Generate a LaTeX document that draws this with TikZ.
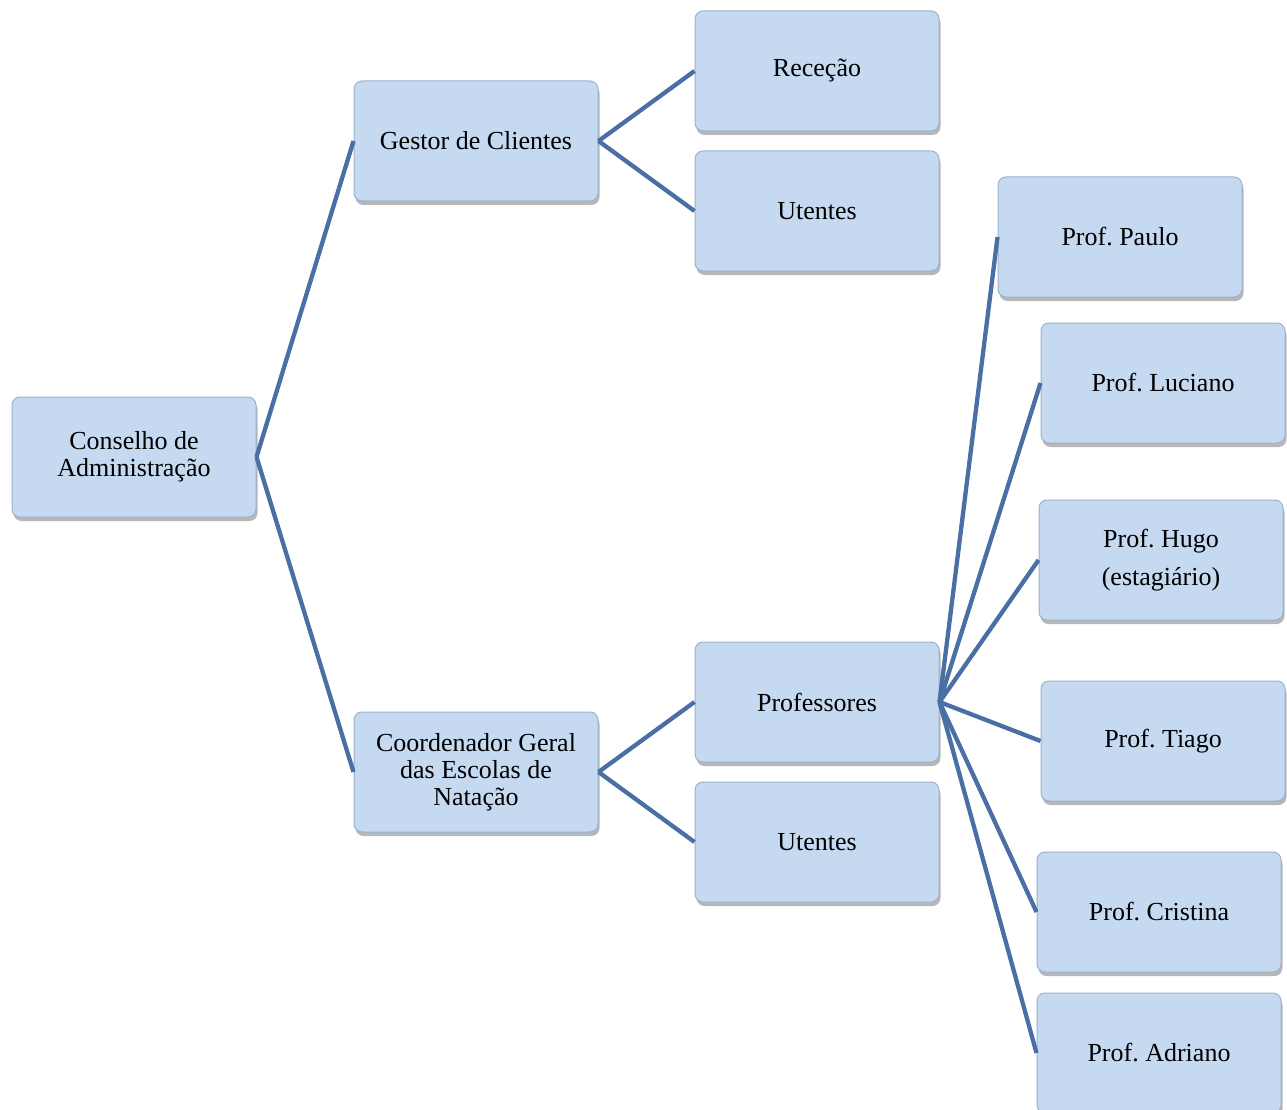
\documentclass[tikz,border=0pt]{standalone}
\usepackage{fontspec}
\setmainfont{Liberation Serif}
\usetikzlibrary{shadows}
\definecolor{boxfill}{HTML}{C5D9F1}
\definecolor{boxedge}{HTML}{9AB2D0}
\definecolor{linkblue}{HTML}{4A6FA5}
\tikzset{
  orgbox/.style={draw=boxedge, line width=1pt, fill=boxfill, rounded corners=8pt,
    minimum width=244pt, minimum height=120pt, align=center, inner sep=2pt,
    font=\fontsize{26}{27}\selectfont\frenchspacing,
    drop shadow={opacity=0.4, shadow xshift=1.5pt, shadow yshift=-4pt, fill=black!70}},
  link/.style={draw=linkblue, line width=4.3pt}
}
\begin{document}
\begin{tikzpicture}[x=1pt,y=-1pt]
\useasboundingbox (0,0) rectangle (1287,1110);
% organisation boxes
\node[orgbox] (ca)   at (134,457)  {Conselho de\\Administração};
\node[orgbox] (gc)   at (476,141)  {Gestor de Clientes};
\node[orgbox] (cg)   at (476,772)  {Coordenador Geral\\das Escolas de\\Natação};
\node[orgbox] (rec)  at (817,71)   {Receção};
\node[orgbox] (ut1)  at (817,211)  {Utentes};
\node[orgbox] (prof) at (817,702)  {Professores};
\node[orgbox] (ut2)  at (817,842)  {Utentes};
\node[orgbox] (pau)  at (1120,237) {Prof. Paulo};
\node[orgbox] (luc)  at (1163,383) {Prof. Luciano};
\node[orgbox] (hug)  at (1161,560) {Prof. Hugo\\[11pt](estagiário)};
\node[orgbox] (tia)  at (1163,741) {Prof. Tiago};
\node[orgbox] (cri)  at (1159,912) {Prof. Cristina};
\node[orgbox] (adr)  at (1159,1053) {Prof. Adriano};
% connectors
\foreach \a/\b in {ca/gc, ca/cg, gc/rec, gc/ut1, cg/prof, cg/ut2,
                   prof/pau, prof/luc, prof/hug, prof/tia, prof/cri, prof/adr}
  \draw[link] (\a.east) -- (\b.west);
\end{tikzpicture}
\end{document}
